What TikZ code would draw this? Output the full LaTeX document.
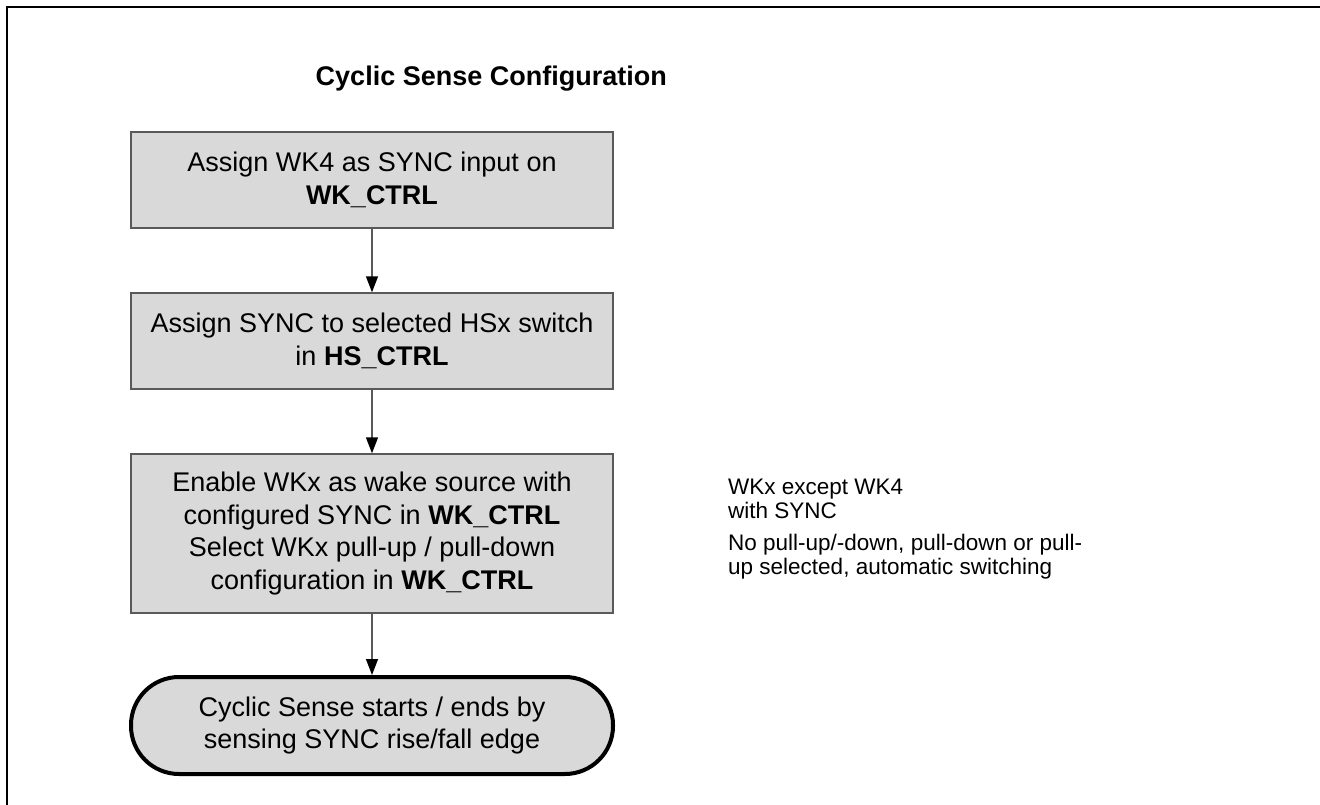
\documentclass[tikz,border=0pt]{standalone}
\usepackage{fontspec}
\setmainfont{Liberation Sans}
\usetikzlibrary{arrows.meta}
\begin{document}
\begin{tikzpicture}[x=1pt,y=-1pt,
  procbox/.style={draw=black!65, line width=1.4pt, fill=black!15, minimum width=482pt, align=center, inner sep=0pt, font=\fontsize{27}{32.5}\selectfont},
  termbox/.style={draw=black, line width=4pt, fill=black!15, rounded corners=48pt, minimum width=482pt, minimum height=97pt, align=center, inner sep=0pt, font=\fontsize{27}{32.5}\selectfont},
  flow/.style={draw=black!65, line width=1.4pt, -{Triangle[length=16pt,width=12pt,color=black]}},
  sidenote/.style={anchor=west, align=left, inner sep=0pt, font=\fontsize{22.5}{24}\selectfont},
  frameline/.style={draw=black, line width=2pt}
]
\useasboundingbox (0,0) rectangle (1320,805);
\coordinate (ftop) at (1320,7);
\coordinate (fcorner) at (7,7);
\coordinate (fbot) at (7,805);
\draw[frameline] (ftop) -- (fcorner) -- (fbot);

\node[anchor=east, inner sep=0pt, font=\fontsize{27}{32}\selectfont\bfseries] (title) at (667,79) {Cyclic Sense Configuration};

\node[procbox, minimum height=96pt] (b1) at (372,180) {Assign WK4 as SYNC input on\\\textbf{WK\_CTRL}};
\node[procbox, minimum height=96pt] (b2) at (372,341) {Assign SYNC to selected HSx switch\\in \textbf{HS\_CTRL}};
\node[procbox, minimum height=159pt] (b3) at (372,533.5) {Enable WKx as wake source with\\configured SYNC in \textbf{WK\_CTRL}\\Select WKx pull-up / pull-down\\configuration in \textbf{WK\_CTRL}};
\node[termbox] (t) at (372,725.5) {Cyclic Sense starts / ends by\\sensing SYNC rise/fall edge};

\draw[flow] (b1) -- (b2);
\draw[flow] (b2) -- (b3);
\draw[flow] (b3) -- (t);

\node[sidenote] (n1) at (728,499) {WKx except WK4\\with SYNC};
\node[sidenote] (n2) at (728,557) {No pull-up/-down, pull-down or pull-\\up selected, automatic switching};
\end{tikzpicture}
\end{document}
